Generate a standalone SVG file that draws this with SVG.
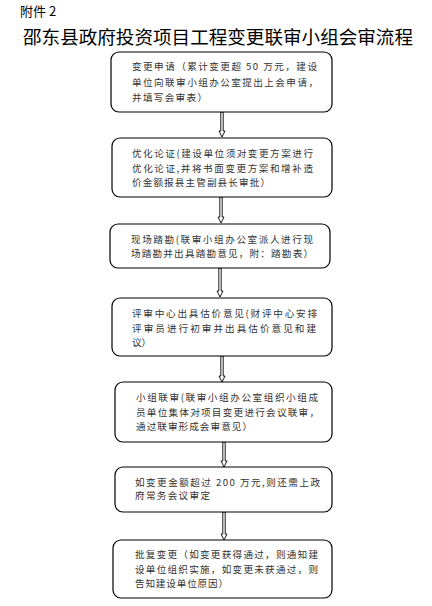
<svg xmlns="http://www.w3.org/2000/svg" width="432" height="606" viewBox="0 0 432 606">
<style>
.box{fill:#fff;stroke:#000;stroke-width:1.2}
.t{font-family:"Noto Sans CJK SC","Liberation Serif",serif;font-size:9.6px;fill:#333}
.h{font-family:"Noto Sans CJK SC","Liberation Sans",sans-serif;fill:#000}
.arr{fill:#fff;stroke:#000;stroke-width:0.9}
</style>
<rect width="432" height="606" fill="#fff"/>
<text class="h" x="20" y="16" font-size="13">附件 2</text>
<text class="h" x="23" y="44" font-size="18.5" textLength="390" lengthAdjust="spacingAndGlyphs">邵东县政府投资项目工程变更联审小组会审流程</text>

<g id="connectors">
<path class="arr" d="M220.8 112V131H219L222 137L225 131H223.2V112Z"/>
<path class="arr" d="M219.8 197V217H218L221 223L224 217H222.2V197Z"/>
<path class="arr" d="M218.8 268V291H217L220 297L223 291H221.2V268Z"/>
<path class="arr" d="M220.8 356V376H219L222 382L225 376H223.2V356Z"/>
<path class="arr" d="M222.8 442V461H221L224 467L227 461H225.2V442Z"/>
<path class="arr" d="M222.8 512V534H221L224 540L227 534H225.2V512Z"/>
</g>

<g id="n1">
<rect class="box" x="111" y="52" width="221" height="60" rx="8"/>
<text class="t" x="132" y="70" textLength="185" lengthAdjust="spacing">变更申请（累计变更超 50 万元，建设</text>
<text class="t" x="132" y="86" textLength="186" lengthAdjust="spacing">单位向联审小组办公室提出上会申请，</text>
<text class="t" x="132" y="101" textLength="75" lengthAdjust="spacing">并填写会审表）</text>
</g>
<g id="n2">
<rect class="box" x="112" y="138" width="220" height="59" rx="8"/>
<text class="t" x="132" y="157" textLength="181" lengthAdjust="spacing">优化论证(建设单位须对变更方案进行</text>
<text class="t" x="132" y="172" textLength="181" lengthAdjust="spacing">优化论证,并将书面变更方案和增补造</text>
<text class="t" x="132" y="186" textLength="138" lengthAdjust="spacing">价金额报县主管副县长审批）</text>
</g>
<g id="n3">
<rect class="box" x="110" y="224" width="220" height="44" rx="8"/>
<text class="t" x="131" y="243" textLength="182" lengthAdjust="spacing">现场踏勘(联审小组办公室派人进行现</text>
<text class="t" x="131" y="257" textLength="182" lengthAdjust="spacing">场踏勘并出具踏勘意见，附：踏勘表）</text>
</g>
<g id="n4">
<rect class="box" x="112" y="298" width="220" height="58" rx="8"/>
<text class="t" x="132" y="317" textLength="185" lengthAdjust="spacing">评审中心出具估价意见(财评中心安排</text>
<text class="t" x="132" y="332" textLength="184" lengthAdjust="spacing">评审员进行初审并出具估价意见和建</text>
<text class="t" x="132" y="346">议）</text>
</g>
<g id="n5">
<rect class="box" x="115" y="382" width="217" height="60" rx="8"/>
<text class="t" x="136" y="401" textLength="182" lengthAdjust="spacing">小组联审(联审小组办公室组织小组成</text>
<text class="t" x="136" y="416" textLength="183" lengthAdjust="spacing">员单位集体对项目变更进行会议联审，</text>
<text class="t" x="136" y="430" textLength="116" lengthAdjust="spacing">通过联审形成会审意见）</text>
</g>
<g id="n6">
<rect class="box" x="115" y="467" width="217" height="45" rx="8"/>
<text class="t" x="135" y="486" textLength="185" lengthAdjust="spacing">如变更金额超过 200 万元,则还需上政</text>
<text class="t" x="135" y="499" textLength="75" lengthAdjust="spacing">府常务会议审定</text>
</g>
<g id="n7">
<rect class="box" x="113" y="540" width="219" height="58" rx="8"/>
<text class="t" x="135" y="558" textLength="183" lengthAdjust="spacing">批复变更（如变更获得通过，则通知建</text>
<text class="t" x="135" y="573" textLength="183" lengthAdjust="spacing">设单位组织实施，如变更未获通过，则</text>
<text class="t" x="135" y="587" textLength="93" lengthAdjust="spacing">告知建设单位原因）</text>
</g>
</svg>
